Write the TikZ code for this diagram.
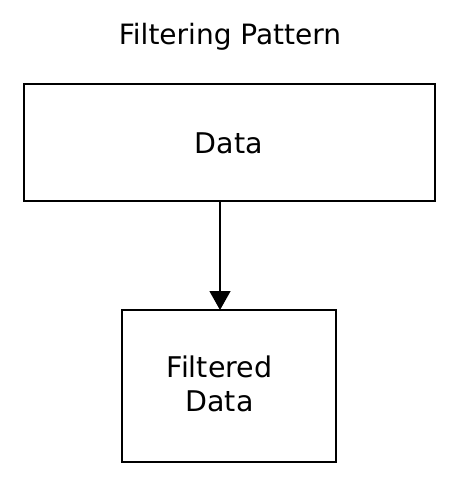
\documentclass[tikz,border=0pt]{standalone}
\usepackage{fontspec}
\setmainfont{DejaVu Sans}
\usetikzlibrary{arrows.meta}
\begin{document}
\begin{tikzpicture}[x=1pt,y=-1pt,
  boxstyle/.style={draw=black,line width=1.4pt,inner sep=0pt},
  lbl/.style={font=\fontsize{28.5}{34}\selectfont,align=center,text=black},
  conn/.style={line width=1.4pt,-{Triangle[width=21pt,length=19pt]}}]
\useasboundingbox (0,0) rectangle (459,486);
\node[lbl,font=\fontsize{28}{32}\selectfont] (title) at (230,37) {Filtering Pattern};
\node[boxstyle,minimum width=411pt,minimum height=117pt] (data) at (229.5,142.5) {};
\node[lbl] (datat) at (229,143) {Data};
\node[boxstyle,minimum width=214pt,minimum height=152pt] (filt) at (229,386) {};
\node[lbl] (filtt) at (219.5,384) {Filtered\\Data};
\coordinate (a) at (220,201);
\coordinate (b) at (220,310);
\draw[conn] (a) -- (b);
\end{tikzpicture}
\end{document}
